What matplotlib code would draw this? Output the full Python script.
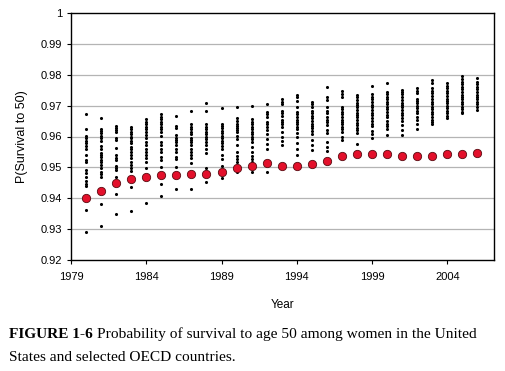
import matplotlib.pyplot as plt
import numpy as np

plt.rcParams['font.family'] = 'Liberation Sans'

years = list(range(1980, 2007))

# US values (red circles)
us_values = [0.9402, 0.9425, 0.9450, 0.9463, 0.9468, 0.9474, 0.9475, 0.9479,
             0.9477, 0.9484, 0.9498, 0.9503, 0.9513, 0.9504, 0.9504, 0.9510,
             0.9520, 0.9538, 0.9543, 0.9543, 0.9544, 0.9537, 0.9536, 0.9538,
             0.9544, 0.9544, 0.9546]

# selected OECD countries (black dots), one list per year
oecd_values = [
    [0.9672, 0.9624, 0.9602, 0.9594, 0.9586, 0.9578, 0.9570, 0.9561, 0.9540, 0.9524,
     0.9516, 0.9491, 0.9481, 0.9470, 0.9456, 0.9446, 0.9439, 0.9362, 0.9292],
    [0.9659, 0.9624, 0.9617, 0.9610, 0.9602, 0.9594, 0.9586, 0.9570, 0.9561, 0.9545,
     0.9540, 0.9532, 0.9524, 0.9516, 0.9507, 0.9499, 0.9486, 0.9479, 0.9470, 0.9382, 0.9311],
    [0.9635, 0.9628, 0.9621, 0.9613, 0.9594, 0.9588, 0.9563, 0.9540, 0.9529, 0.9524,
     0.9505, 0.9497, 0.9491, 0.9470, 0.9413, 0.9348],
    [0.9631, 0.9624, 0.9615, 0.9607, 0.9600, 0.9594, 0.9586, 0.9578, 0.9567, 0.9560,
     0.9551, 0.9540, 0.9529, 0.9518, 0.9508, 0.9497, 0.9488, 0.9437, 0.9359],
    [0.9656, 0.9648, 0.9639, 0.9631, 0.9624, 0.9615, 0.9605, 0.9594, 0.9583, 0.9574,
     0.9561, 0.9550, 0.9540, 0.9531, 0.9518, 0.9499, 0.9383],
    [0.9672, 0.9664, 0.9656, 0.9648, 0.9639, 0.9631, 0.9624, 0.9615, 0.9602, 0.9581,
     0.9572, 0.9561, 0.9550, 0.9534, 0.9524, 0.9502, 0.9445, 0.9408],
    [0.9667, 0.9635, 0.9628, 0.9605, 0.9596, 0.9588, 0.9581, 0.9572, 0.9559, 0.9550,
     0.9534, 0.9527, 0.9502, 0.9430],
    [0.9682, 0.9639, 0.9631, 0.9624, 0.9615, 0.9607, 0.9596, 0.9588, 0.9581, 0.9572,
     0.9559, 0.9550, 0.9540, 0.9531, 0.9513, 0.9430],
    [0.9710, 0.9682, 0.9639, 0.9631, 0.9624, 0.9615, 0.9607, 0.9599, 0.9592, 0.9583,
     0.9572, 0.9561, 0.9548, 0.9499, 0.9453],
    [0.9691, 0.9642, 0.9635, 0.9626, 0.9617, 0.9610, 0.9602, 0.9594, 0.9585, 0.9578,
     0.9570, 0.9559, 0.9540, 0.9527, 0.9505, 0.9466],
    [0.9696, 0.9659, 0.9650, 0.9642, 0.9635, 0.9628, 0.9621, 0.9613, 0.9602, 0.9592,
     0.9574, 0.9550, 0.9538, 0.9527, 0.9516, 0.9484],
    [0.9699, 0.9656, 0.9648, 0.9639, 0.9631, 0.9624, 0.9615, 0.9607, 0.9599, 0.9592,
     0.9581, 0.9567, 0.9550, 0.9538, 0.9527, 0.9516, 0.9484],
    [0.9705, 0.9680, 0.9672, 0.9664, 0.9648, 0.9640, 0.9631, 0.9621, 0.9608, 0.9591,
     0.9575, 0.9561, 0.9486],
    [0.9720, 0.9712, 0.9705, 0.9683, 0.9675, 0.9666, 0.9655, 0.9648, 0.9640, 0.9631,
     0.9615, 0.9599, 0.9586, 0.9572],
    [0.9734, 0.9727, 0.9716, 0.9696, 0.9680, 0.9672, 0.9664, 0.9655, 0.9648, 0.9640,
     0.9631, 0.9623, 0.9610, 0.9597, 0.9580, 0.9561, 0.9540],
    [0.9712, 0.9705, 0.9696, 0.9683, 0.9675, 0.9666, 0.9659, 0.9651, 0.9642, 0.9634,
     0.9626, 0.9618, 0.9608, 0.9588, 0.9572, 0.9556],
    [0.9759, 0.9727, 0.9718, 0.9696, 0.9683, 0.9675, 0.9664, 0.9655, 0.9648, 0.9637,
     0.9621, 0.9612, 0.9583, 0.9567, 0.9554],
    [0.9748, 0.9737, 0.9728, 0.9696, 0.9688, 0.9680, 0.9672, 0.9664, 0.9655, 0.9648,
     0.9640, 0.9631, 0.9623, 0.9615, 0.9599, 0.9588],
    [0.9734, 0.9727, 0.9718, 0.9709, 0.9702, 0.9694, 0.9685, 0.9677, 0.9669, 0.9662,
     0.9653, 0.9644, 0.9637, 0.9629, 0.9621, 0.9612, 0.9575],
    [0.9763, 0.9737, 0.9728, 0.9720, 0.9712, 0.9702, 0.9694, 0.9685, 0.9677, 0.9669,
     0.9659, 0.9651, 0.9642, 0.9634, 0.9618, 0.9608, 0.9594],
    [0.9772, 0.9745, 0.9737, 0.9728, 0.9720, 0.9712, 0.9705, 0.9696, 0.9688, 0.9680,
     0.9669, 0.9662, 0.9651, 0.9642, 0.9634, 0.9623, 0.9605],
    [0.9752, 0.9745, 0.9737, 0.9728, 0.9718, 0.9709, 0.9702, 0.9694, 0.9685, 0.9677,
     0.9669, 0.9659, 0.9651, 0.9637, 0.9621, 0.9605],
    [0.9756, 0.9748, 0.9740, 0.9723, 0.9716, 0.9707, 0.9698, 0.9691, 0.9683, 0.9675,
     0.9664, 0.9653, 0.9640, 0.9623],
    [0.9783, 0.9772, 0.9756, 0.9748, 0.9740, 0.9731, 0.9720, 0.9712, 0.9705, 0.9696,
     0.9688, 0.9680, 0.9672, 0.9664, 0.9655, 0.9648, 0.9640],
    [0.9772, 0.9764, 0.9756, 0.9748, 0.9740, 0.9731, 0.9723, 0.9715, 0.9707, 0.9699,
     0.9691, 0.9683, 0.9675, 0.9668, 0.9661],
    [0.9796, 0.9786, 0.9777, 0.9769, 0.9761, 0.9753, 0.9745, 0.9736, 0.9728, 0.9721,
     0.9712, 0.9704, 0.9696, 0.9689, 0.9680, 0.9675],
    [0.9788, 0.9777, 0.9769, 0.9761, 0.9753, 0.9745, 0.9736, 0.9728, 0.9721, 0.9712,
     0.9704, 0.9696, 0.9685],
]

x_ticks = [1979, 1984, 1989, 1994, 1999, 2004]
y_ticks = [0.92, 0.93, 0.94, 0.95, 0.96, 0.97, 0.98, 0.99, 1.0]
y_labels = ["0.92", "0.93", "0.94", "0.95", "0.96", "0.97", "0.98", "0.99", "1"]

fig = plt.figure(figsize=(5.06, 3.71), dpi=100)
ax = fig.add_axes([71 / 506, 1 - 260 / 371, (494 - 71) / 506, (260 - 13) / 371])

# black dots for the OECD countries
for yr, vals in zip(years, oecd_values):
    ax.scatter([yr] * len(vals), vals, s=5, color="black", zorder=3, linewidths=0)

# red circles for the US
ax.scatter(years, us_values, s=36, color="#e3102b", edgecolors="#5a0a10",
           linewidths=0.6, zorder=4)

ax.set_xlim(1979, 2007.1)
ax.set_ylim(0.92, 1.0)
ax.set_xticks(x_ticks)
ax.set_yticks(y_ticks)
ax.set_yticklabels(y_labels)
ax.tick_params(labelsize=8, length=3, width=0.8, color="black")
ax.tick_params(axis="x", pad=6)
for yv in y_ticks[1:-1]:
    ax.axhline(yv, color="#b4b4b4", linewidth=0.9, zorder=1)
for sp in ax.spines.values():
    sp.set_linewidth(1.0)

ax.set_ylabel("P(Survival to 50)", fontsize=9, labelpad=9)
ax.set_xlabel("Year", fontsize=8.5, labelpad=12)

# caption
fig.canvas.draw()
bold = fig.text(9 / 506, 1 - 338 / 371, "FIGURE 1-6", family="Liberation Serif",
                fontweight="bold", fontsize=11.1, va="baseline")
r = fig.canvas.get_renderer()
bb = bold.get_window_extent(renderer=r)
fig.text(bb.x1 / fig.bbox.width + 4 / 506, 1 - 338 / 371,
         "Probability of survival to age 50 among women in the United",
         family="Liberation Serif", fontsize=11.1, va="baseline")
fig.text(9 / 506, 1 - 361 / 371, "States and selected OECD countries.",
         family="Liberation Serif", fontsize=11.1, va="baseline")

fig.savefig("out.png", dpi=100)
